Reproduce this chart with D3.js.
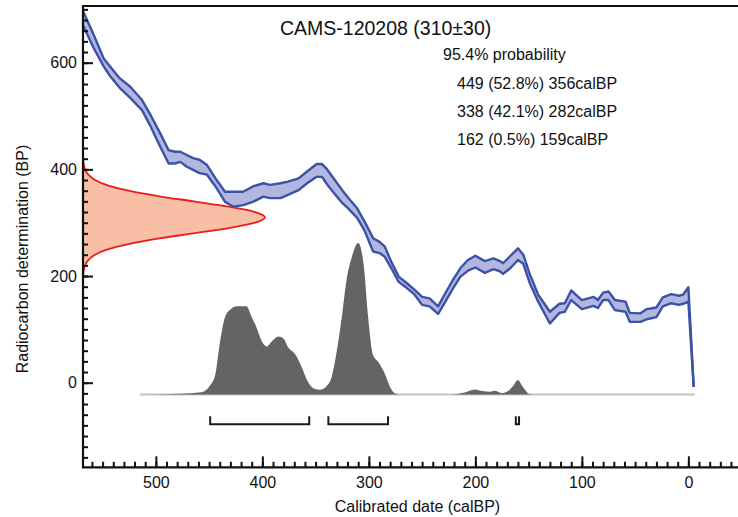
<!DOCTYPE html>
<html>
<head>
<meta charset="utf-8">
<script src="https://cdn.jsdelivr.net/npm/d3@7"></script>
<style>
  body { margin: 0; background: #fff; }
  svg text { font-family: "Liberation Sans", Arial, sans-serif; fill: #111; }
</style>
</head>
<body>
<svg id="chart" width="738" height="517"></svg>
<script>
// --- calibration curve (calBP, upper / lower BP edge of the band) ---
const curveCal   = [568, 559, 549, 543, 534, 524, 513, 505, 496, 488, 482, 477, 471, 465, 459, 452, 444, 435, 427, 418, 409, 399, 393, 383, 376, 366, 358, 349, 344, 340, 333, 325, 319, 311, 304, 296, 290, 285, 279, 272, 264, 257, 250, 243, 235, 229, 221, 214, 207, 200, 191, 183, 177, 174, 167, 160, 155, 149, 141, 130, 121, 116, 110, 100, 89, 85, 80, 75, 69, 59, 55, 45, 39, 30, 24, 16, 9, 5, 0, -5];
const curveUpper = [695, 655, 608, 593, 571, 555, 530, 502, 468, 436, 433, 433, 427, 421, 418, 408, 383, 358, 358, 358, 368, 374, 371, 374, 377, 383, 396, 410, 410, 402, 383, 361, 346, 327, 302, 271, 264, 255, 227, 199, 186, 174, 161, 158, 143, 165, 193, 215, 230, 238, 228, 233, 228, 224, 238, 252, 240, 204, 165, 133, 148, 149, 173, 155, 161, 155, 169, 171, 155, 152, 131, 130, 138, 141, 160, 166, 163, 165, 179, -8];
const curveLower = [669, 630, 593, 575, 553, 534, 511, 481, 443, 411, 411, 414, 405, 399, 393, 390, 368, 339, 330, 333, 339, 349, 346, 346, 352, 361, 374, 386, 386, 374, 356, 337, 326, 309, 285, 246, 243, 236, 215, 189, 177, 165, 146, 143, 129, 149, 177, 199, 210, 216, 206, 213, 209, 204, 215, 230, 223, 187, 152, 111, 131, 133, 155, 138, 144, 140, 155, 155, 136, 133, 114, 114, 119, 123, 143, 149, 146, 148, 152, -8];

// --- calibrated probability (relative density, peak = 1) ---
const probCal     = [515, 493, 477, 457, 449, 444, 440, 435, 430, 424, 415, 410, 405, 401, 396, 391, 385, 380, 376, 369, 363, 357, 351, 346, 340, 335, 330, 325, 321, 316, 310, 305, 301, 296, 291, 285, 280, 275, 271, 222, 211, 200, 194, 186, 182, 175, 169, 164, 160, 156, 152, 150, 146, -6];
const probDensity = [0, 0.002, 0.005, 0.015, 0.06, 0.137, 0.335, 0.511, 0.56, 0.582, 0.582, 0.511, 0.434, 0.357, 0.317, 0.352, 0.383, 0.368, 0.313, 0.264, 0.18, 0.081, 0.038, 0.031, 0.053, 0.114, 0.291, 0.533, 0.753, 0.907, 1.0, 0.864, 0.533, 0.258, 0.213, 0.137, 0.048, 0.005, 0, 0, 0.011, 0.033, 0.022, 0.018, 0.024, 0.009, 0.024, 0.061, 0.095, 0.055, 0.018, 0.005, 0, 0];

// --- radiocarbon measurement (BP, relative density) ---
const rcBP      = [420, 410, 400, 390, 380, 370, 360, 350, 340, 330, 320, 310, 300, 290, 280, 270, 260, 250, 240, 230, 220, 210, 200];
const rcDensity = [0, 0.004, 0.011, 0.029, 0.066, 0.135, 0.249, 0.411, 0.607, 0.801, 0.946, 1.0, 0.946, 0.801, 0.607, 0.411, 0.249, 0.135, 0.066, 0.029, 0.011, 0.004, 0];

// --- 95.4% ranges (from, to calBP) ---
const rangeFrom = [449, 338, 162];
const rangeTo   = [356, 282, 159];
const rangeLabels = ["449 (52.8%) 356calBP", "338 (42.1%) 282calBP", "162 (0.5%) 159calBP"];

const titleText = "CAMS-120208 (310\u00b130)";
const xMajor = [500, 400, 300, 200, 100, 0];
const yMajor = [0, 200, 400, 600];

const svg = d3.select("#chart");
const plotLeft = 83, plotRight = 738, plotTop = 6, plotBottom = 467.3;

const x = d3.scaleLinear().domain([568.4, -46.6]).range([plotLeft, plotRight]);
const y = d3.scaleLinear().domain([-158.6, 706.3]).range([plotBottom, plotTop]);
// probability heights: baseline at -22 BP, peak reaches 262 BP
const probY = d3.scaleLinear().domain([0, 1]).range([y(-22), y(262)]);
// measurement widths: from the axis out to about 182px
const rcX = d3.scaleLinear().domain([0, 1]).range([plotLeft, plotLeft + 182]);

// --- red measurement distribution on the y axis ---
const rcPts = rcBP.map((b, i) => [b, rcDensity[i]]);
svg.append("path")
  .attr("d", d3.area().curve(d3.curveMonotoneY)
    .y(d => y(d[0])).x0(plotLeft).x1(d => rcX(d[1]))(rcPts))
  .attr("fill", "#f8bfa6");
svg.append("path")
  .attr("d", d3.line().curve(d3.curveMonotoneY)
    .y(d => y(d[0])).x(d => rcX(d[1]))(rcPts))
  .attr("fill", "none").attr("stroke", "#ec1c1c").attr("stroke-width", 1.8);

// --- grey calibrated distribution ---
svg.append("line")
  .attr("x1", x(515)).attr("x2", x(-6))
  .attr("y1", probY(0)).attr("y2", probY(0))
  .attr("stroke", "#c4c4c4").attr("stroke-width", 2);
const probPts = probCal.map((c, i) => [c, probDensity[i]]);
svg.append("path")
  .attr("d", d3.area().curve(d3.curveMonotoneX)
    .x(d => x(d[0])).y0(probY(0)).y1(d => probY(d[1]))(probPts))
  .attr("fill", "#646464");

// --- calibration curve band ---
const band = curveCal.map((c, i) => ({ c: c, u: curveUpper[i], l: curveLower[i] }));
svg.append("path")
  .attr("d", d3.area().x(d => x(d.c)).y0(d => y(d.l)).y1(d => y(d.u))(band))
  .attr("fill", "#b3b7df");
[d => y(d.u), d => y(d.l)].forEach(fy => {
  svg.append("path")
    .attr("d", d3.line().x(d => x(d.c)).y(fy)(band))
    .attr("fill", "none").attr("stroke", "#3b52a6").attr("stroke-width", 2.4)
    .attr("stroke-linejoin", "round");
});

// --- range brackets ---
const bracketY = y(-78);
rangeFrom.forEach((f, i) => {
  const x1 = x(f), x2 = x(rangeTo[i]);
  svg.append("path")
    .attr("d", `M${x1},${bracketY - 8}V${bracketY}H${x2}V${bracketY - 8}`)
    .attr("fill", "none").attr("stroke", "#1a1a1a").attr("stroke-width", 2);
});

// --- axes (ticks point into the plot) ---
const fontSize = "16px";
svg.append("g").attr("transform", `translate(${plotLeft},0)`)
  .call(d3.axisLeft(y).tickValues(d3.range(-140, 701, 20)).tickSize(-5).tickFormat(""));
svg.append("g").attr("transform", `translate(${plotLeft},0)`)
  .call(d3.axisLeft(y).tickValues(yMajor).tickSize(-10).tickPadding(6));

svg.append("g").attr("transform", `translate(0,${plotBottom})`)
  .call(d3.axisBottom(x).tickValues(d3.range(-40, 561, 10)).tickSize(-5.5).tickFormat(""));
svg.append("g").attr("transform", `translate(0,${plotBottom})`)
  .call(d3.axisBottom(x).tickValues(xMajor).tickSize(-11).tickPadding(9));

svg.selectAll(".domain").remove();
svg.selectAll(".tick line").attr("stroke", "#111").attr("stroke-width", 2);
svg.selectAll(".tick text").style("font-size", fontSize).style("fill", "#111");

// frame: left, top, bottom
svg.append("path")
  .attr("d", `M${plotRight},${plotTop}H${plotLeft}V${plotBottom}H${plotRight}`)
  .attr("fill", "none").attr("stroke", "#111").attr("stroke-width", 2.2);

// --- labels ---
svg.append("text")
  .attr("x", 417.5).attr("y", 512)
  .attr("text-anchor", "middle").style("font-size", fontSize)
  .text("Calibrated date (calBP)");
svg.append("text")
  .attr("transform", "translate(28,259) rotate(-90)")
  .attr("text-anchor", "middle").style("font-size", fontSize)
  .text("Radiocarbon determination (BP)");

svg.append("text")
  .attr("x", 280).attr("y", 35).style("font-size", "19.5px")
  .text(titleText);
svg.append("text")
  .attr("x", 443).attr("y", 60).style("font-size", "16px")
  .text("95.4% probability");
rangeLabels.forEach((t, i) => {
  svg.append("text")
    .attr("x", 457).attr("y", 88.5 + i * 28.3).style("font-size", "16px")
    .text(t);
});
</script>
</body>
</html>
